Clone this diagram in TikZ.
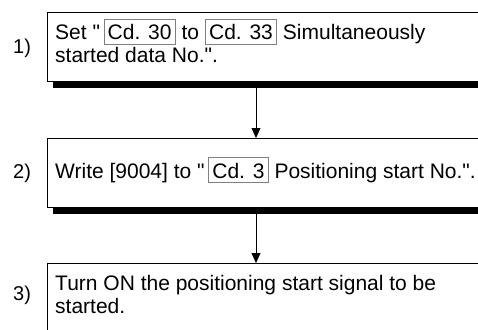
\documentclass[tikz,border=0pt]{standalone}
\usepackage{fontspec}
\setmainfont{Liberation Sans}
\usetikzlibrary{arrows.meta,calc}
\definecolor{cdgray}{HTML}{808080}
\newcommand\cdref[1]{{\setlength\fboxsep{3.5pt}\setlength\fboxrule{0.7pt}\fcolorbox{cdgray}{white}{\rule{0pt}{17pt}#1}}}
\newcommand\dq{\textquotedbl}
\tikzset{
  stepbox/.style={draw, line width=0.8pt, fill=white, minimum width=460pt, anchor=north west, inner sep=0pt},
  txt/.style={font=\fontsize{21}{23}\selectfont, align=left, inner sep=0pt, anchor=base west},
  lbl/.style={font=\fontsize{20}{20}\selectfont, inner sep=0pt, anchor=base west},
  shadowbar/.style={fill=black},
  arr/.style={line width=0.8pt, -{Triangle[width=9pt,length=10pt]}}
}
\begin{document}
\begin{tikzpicture}[x=1pt,y=-1pt]
\useasboundingbox (0,0) rectangle (478,329);
\fill[white] (0,0) rectangle (478,329);
\clip (0,0) rectangle (478,329);
% boxes
\node[stepbox, minimum height=69pt] (b1) at (47,12) {};
\node[stepbox, minimum height=69pt] (b2) at (47,138) {};
\node[stepbox, minimum height=100pt] (b3) at (47,263) {};
% shadows
\fill[shadowbar] ($(b1.south west)+(6,0)$) rectangle ($(b1.south east)+(6,6)$);
\fill[shadowbar] ($(b2.south west)+(6,0)$) rectangle ($(b2.south east)+(6,6)$);
% texts (base = last line)
\node[txt] (t1) at (55,63) {Set \dq\,\cdref{Cd. 30} to \cdref{Cd. 33} Simultaneously\\started data No.\dq.};
\node[txt] (t2) at (55,178) {Write [9004] to \dq\,\cdref{Cd. 3} Positioning start No.\dq.};
\node[txt] (t3) at (55,313) {Turn ON the positioning start signal to be\\started.};
% labels
\node[lbl] (l1) at (13,53) {1)};
\node[lbl] (l2) at (13,178) {2)};
\node[lbl] (l3) at (13,300) {3)};
% connectors
\coordinate (a1) at ($(b1.south west)+(209,6)$);
\coordinate (a2) at ($(b2.south west)+(209,6)$);
\draw[arr] (a1) -- (a1 |- b2.north);
\draw[arr] (a2) -- (a2 |- b3.north);
\end{tikzpicture}
\end{document}
